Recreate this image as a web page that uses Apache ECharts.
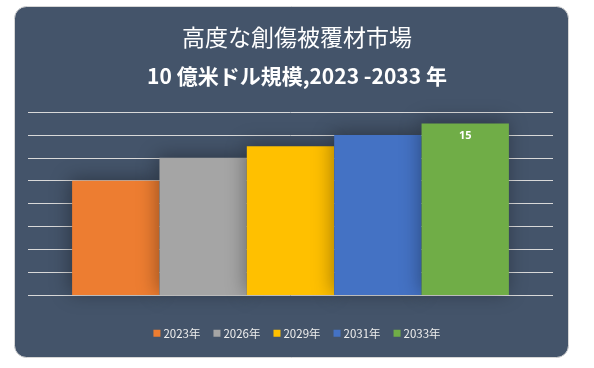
<!DOCTYPE html>
<html><head><meta charset="utf-8">
<script src="https://cdn.jsdelivr.net/npm/echarts@6/dist/echarts.min.js"></script>
<style>html,body{margin:0;padding:0;background:#fff}#c{width:594px;height:368px}</style>
</head><body><div id="c"></div>
<script>
const titleLine1 = '高度な創傷被覆材市場';
const titleLine2 = '10 億米ドル規模,2023 -2033 年';
const seriesNames = ['2023年', '2026年', '2029年', '2031年', '2033年'];
const seriesValues = [10, 12, 13, 14, 15];
const seriesColors = ['#ed7d31', '#a5a5a5', '#ffc000', '#4472c4', '#70ad47'];
const categories = [''];
const labelShown = [false, false, false, false, true];

const chart = echarts.init(document.getElementById('c'), null, {renderer: 'canvas'});
const series = seriesNames.map((n, i) => ({
  name: n,
  type: 'bar',
  data: [seriesValues[i]],
  barGap: '0%',
  barCategoryGap: '16.8%',
  itemStyle: {color: seriesColors[i], shadowBlur: 18, shadowColor: 'rgba(0,0,0,0.35)', shadowOffsetX: -2, shadowOffsetY: -2},
  label: {show: labelShown[i], position: 'insideTop', distance: 7, color: '#fff', fontWeight: 'bold', fontSize: 11, fontFamily: 'Open Sans, sans-serif'}
}));
chart.setOption({
  backgroundColor: '#ffffff',
  animation: false,
  graphic: [{
    type: 'rect', z: -10, left: 14, top: 6,
    shape: {width: 554, height: 351, r: 12},
    style: {fill: '#44546a', stroke: '#d6d6d6', lineWidth: 1}
  }],
  title: [
    {text: titleLine1, left: 'center', top: 21, textStyle: {color: '#fff', fontSize: 23, fontWeight: 'normal', fontFamily: 'Noto Sans CJK JP'}},
    {text: titleLine2, left: 'center', top: 61, textStyle: {color: '#fff', fontSize: 21, fontWeight: 'bold', fontFamily: 'Noto Sans CJK JP'}}
  ],
  legend: {
    bottom: 24, left: 'center', itemWidth: 7, itemHeight: 7, itemGap: 13,
    icon: 'rect',
    textStyle: {color: '#eeeeee', fontSize: 11.5, fontFamily: 'Noto Sans CJK JP', padding: [0, 0, 0, -2]},
    data: seriesNames
  },
  grid: {left: 28, right: 41, top: 112, bottom: 73},
  xAxis: {type: 'category', data: categories, axisLine: {show: false}, axisTick: {show: false}, axisLabel: {show: false}},
  yAxis: {type: 'value', min: 0, max: 16, interval: 2, axisLabel: {show: false}, axisLine: {show: false}, axisTick: {show: false},
    splitLine: {lineStyle: {color: '#d9d9d9', width: 1}}},
  series: series
});
</script></body></html>
